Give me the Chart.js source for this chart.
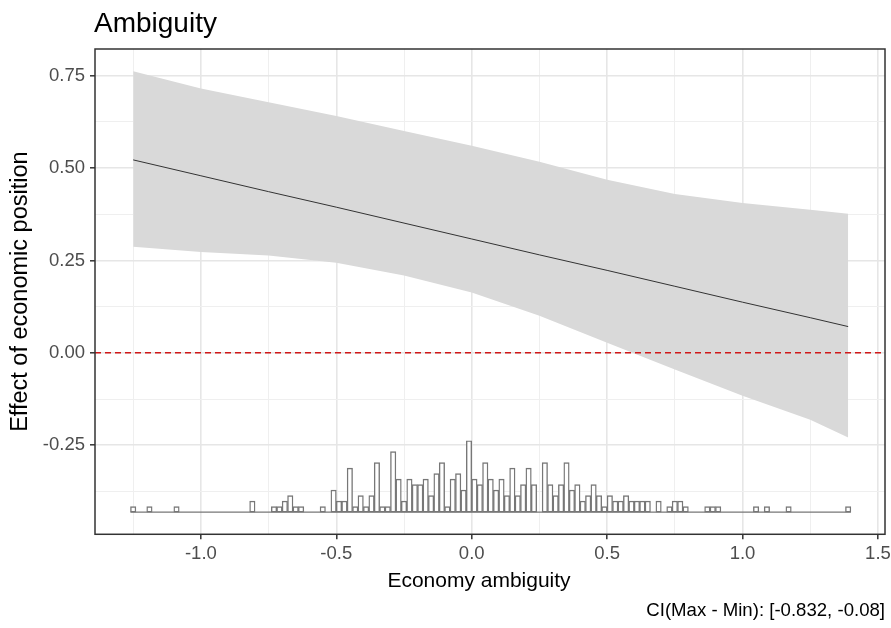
<!DOCTYPE html>
<html>
<head>
<meta charset="utf-8">
<title>Ambiguity</title>
<script src="https://cdn.jsdelivr.net/npm/chart.js@4.4.1/dist/chart.umd.min.js"></script>
<style>
    html, body { margin: 0; padding: 0; background: #fff; }
    canvas { display: block; }
</style>
</head>
<body>
<canvas id="ambiguity_chart" width="891" height="628"></canvas>
<script>
const chartTitle = 'Ambiguity';
const xLabel = 'Economy ambiguity';
const yLabel = 'Effect of economic position';
const caption = 'CI(Max - Min): [-0.832, -0.08]';

const xTicks = [-1.0, -0.5, 0.0, 0.5, 1.0, 1.5];
const xMinorTicks = [-1.25, -0.75, -0.25, 0.25, 0.75, 1.25];
const yTicks = [-0.25, 0.0, 0.25, 0.5, 0.75];
const yMinorTicks = [-0.375, -0.125, 0.125, 0.375, 0.625];

// marginal effect and its confidence band
const effectX = [-1.25, -1.0, -0.75, -0.5, -0.25, 0.0, 0.25, 0.5, 0.75, 1.0, 1.25, 1.39];
const effect = [0.522, 0.479, 0.436, 0.394, 0.351, 0.308, 0.265, 0.223, 0.180, 0.137, 0.095, 0.071];
const ciUpper = [0.762, 0.715, 0.678, 0.641, 0.600, 0.560, 0.517, 0.468, 0.430, 0.405, 0.387, 0.376];
const ciLower = [0.287, 0.273, 0.263, 0.244, 0.209, 0.163, 0.100, 0.027, -0.045, -0.116, -0.181, -0.229];

// histogram of economy ambiguity, bins of 0.02 starting at -1.25
const binStart = -1.25;
const binWidth = 0.02;
const histCounts = [
    1, 0, 0, 1, 0, 0, 0, 0, 1, 0,
    0, 0, 0, 0, 0, 0, 0, 0, 0, 0,
    0, 0, 2, 0, 0, 0, 1, 1, 2, 3,
    1, 1, 0, 0, 0, 1, 0, 4, 2, 2,
    8, 1, 3, 1, 3, 9, 1, 1, 11, 6,
    2, 6, 5, 5, 6, 3, 7, 9, 1, 6,
    7, 4, 13, 6, 5, 9, 6, 4, 6, 3,
    8, 3, 5, 8, 5, 0, 9, 5, 3, 5,
    9, 4, 5, 2, 3, 5, 3, 1, 3, 2,
    2, 3, 2, 2, 2, 2, 0, 2, 0, 1,
    2, 2, 1, 0, 0, 0, 1, 1, 1, 0,
    0, 0, 0, 0, 0, 1, 0, 1, 0, 0,
    0, 1, 0, 0, 0, 0, 0, 0, 0, 0,
    0, 0, 1
];
const histBase = -0.431;
const histUnit = 0.01486;

const font = "'Liberation Sans', Arial, sans-serif";

const binCenter = k => +(binStart + k * binWidth).toFixed(4);
const histBars = [];
histCounts.forEach((c, k) => {
    if (c > 0) histBars.push({x: binCenter(k), y: [histBase, histBase + c * histUnit]});
});
const histLine = [
    {x: binCenter(0) - binWidth / 2, y: histBase},
    {x: binCenter(histCounts.length - 1) + binWidth / 2, y: histBase}
];
const points = ys => effectX.map((x, i) => ({x: x, y: ys[i]}));

const isMajor = (list, ctx) => ctx.tick && list.includes(ctx.tick.value);

const decorations = {
    id: 'decorations',
    afterDatasetsDraw(chart) {
        const {ctx, chartArea, scales} = chart;
        const y0 = scales.y.getPixelForValue(0);
        ctx.save();
        ctx.strokeStyle = '#d01818';
        ctx.lineWidth = 1.5;
        ctx.setLineDash([6, 4]);
        ctx.beginPath();
        ctx.moveTo(chartArea.left, y0);
        ctx.lineTo(chartArea.right, y0);
        ctx.stroke();
        ctx.restore();
    },
    afterDraw(chart) {
        const {ctx, chartArea} = chart;
        ctx.save();
        ctx.strokeStyle = '#333333';
        ctx.lineWidth = 1.5;
        ctx.strokeRect(chartArea.left, chartArea.top,
            chartArea.right - chartArea.left, chartArea.bottom - chartArea.top);
        ctx.fillStyle = '#000';
        ctx.textAlign = 'left';
        ctx.textBaseline = 'alphabetic';
        ctx.font = '28px ' + font;
        ctx.fillText(chartTitle, chartArea.left - 1, 32);
        ctx.textAlign = 'center';
        ctx.font = '21px ' + font;
        ctx.fillText(xLabel, 479, 587);
        ctx.restore();
    }
};

new Chart(
    document.getElementById('ambiguity_chart'),
    {
        type: 'bar',
        data: {
            datasets: [
                {
                    type: 'line',
                    data: points(effect),
                    borderColor: '#333333',
                    borderWidth: 1,
                    pointRadius: 0,
                    fill: false,
                    order: 0
                },
                {
                    type: 'bar',
                    data: histBars,
                    backgroundColor: '#ffffff',
                    borderColor: '#777777',
                    borderWidth: 1.4,
                    borderSkipped: false,
                    barPercentage: 1,
                    categoryPercentage: 1,
                    order: 1
                },
                {
                    type: 'line',
                    data: histLine,
                    borderColor: '#777777',
                    borderWidth: 1.4,
                    pointRadius: 0,
                    fill: false,
                    order: 1
                },
                {
                    type: 'line',
                    data: points(ciUpper),
                    borderWidth: 0,
                    borderColor: 'rgba(0,0,0,0)',
                    backgroundColor: '#d9d9d9',
                    pointRadius: 0,
                    fill: '+1',
                    order: 5
                },
                {
                    type: 'line',
                    data: points(ciLower),
                    borderWidth: 0,
                    borderColor: 'rgba(0,0,0,0)',
                    pointRadius: 0,
                    fill: false,
                    order: 5
                }
            ]
        },
        options: {
            responsive: false,
            animation: false,
            devicePixelRatio: 1,
            layout: {padding: {top: 49, right: 6, bottom: 0, left: 0}},
            plugins: {
                legend: {display: false},
                tooltip: {enabled: false},
                subtitle: {
                    display: true,
                    text: caption,
                    position: 'bottom',
                    align: 'end',
                    color: '#000',
                    font: {family: font, size: 18.6},
                    padding: {top: 0, bottom: 6}
                }
            },
            scales: {
                x: {
                    type: 'linear',
                    min: -1.391,
                    max: 1.526,
                    offset: false,
                    afterBuildTicks: s => {
                        s.ticks = xTicks.concat(xMinorTicks).sort((a, b) => a - b).map(v => ({value: v}));
                    },
                    afterFit: s => {
                        s.height = 65.4;
                        s.paddingLeft = 0;
                        s.paddingRight = 0;
                    },
                    ticks: {
                        autoSkip: false,
                        maxRotation: 0,
                        padding: 4,
                        color: '#4d4d4d',
                        font: {family: font, size: 18.5},
                        callback: v => xTicks.includes(v) ? v.toFixed(1) : ''
                    },
                    grid: {
                        offset: false,
                        color: ctx => isMajor(xTicks, ctx) ? '#e6e6e6' : '#efefef',
                        lineWidth: ctx => isMajor(xTicks, ctx) ? 1.6 : 1,
                        tickLength: 5,
                        tickWidth: 1.5,
                        tickColor: ctx => isMajor(xTicks, ctx) ? '#333333' : 'rgba(0,0,0,0)'
                    },
                    border: {display: false}
                },
                y: {
                    type: 'linear',
                    min: -0.491,
                    max: 0.822,
                    afterBuildTicks: s => {
                        s.ticks = yTicks.concat(yMinorTicks).sort((a, b) => a - b).map(v => ({value: v}));
                    },
                    afterFit: s => {
                        s.width = 95;
                        s.paddingTop = 0;
                        s.paddingBottom = 0;
                    },
                    ticks: {
                        autoSkip: false,
                        padding: 5,
                        color: '#4d4d4d',
                        font: {family: font, size: 18.5},
                        callback: v => yTicks.includes(v) ? v.toFixed(2) : ''
                    },
                    grid: {
                        color: ctx => isMajor(yTicks, ctx) ? '#e6e6e6' : '#efefef',
                        lineWidth: ctx => isMajor(yTicks, ctx) ? 1.6 : 1,
                        tickLength: 5,
                        tickWidth: 1.5,
                        tickColor: ctx => isMajor(yTicks, ctx) ? '#333333' : 'rgba(0,0,0,0)'
                    },
                    border: {display: false},
                    title: {
                        display: true,
                        text: yLabel,
                        color: '#000',
                        font: {family: font, size: 23.5},
                        padding: {top: 6, bottom: 0}
                    }
                }
            }
        },
        plugins: [decorations]
    }
);
</script>
</body>
</html>
